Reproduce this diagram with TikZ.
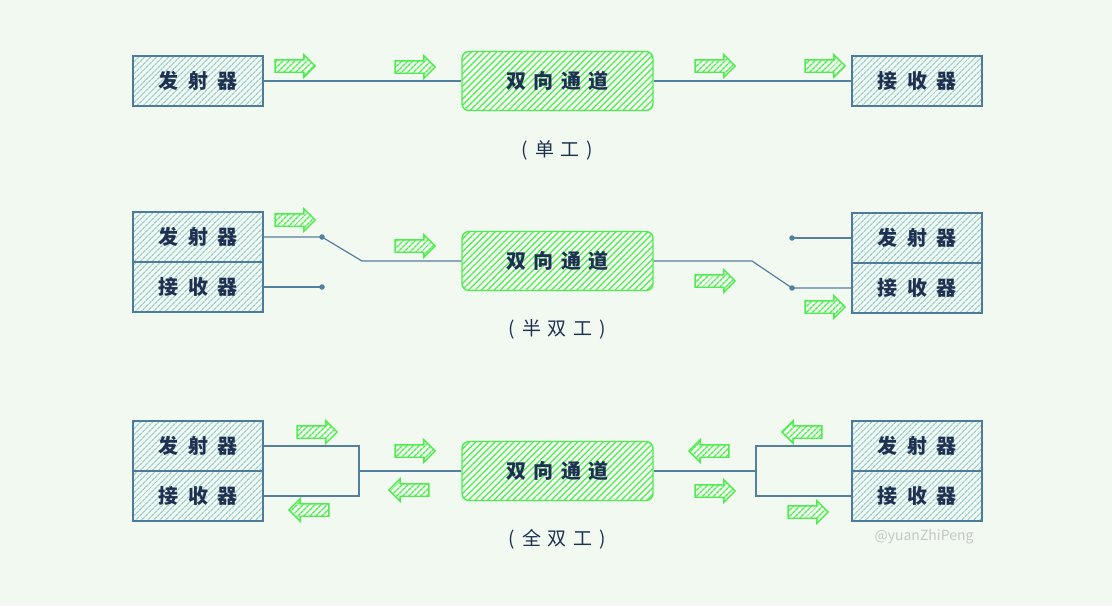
\documentclass[tikz,border=0pt]{standalone}
\usepackage{fontspec}
\setmainfont{Noto Sans CJK SC}[WordSpace=2]
\newfontfamily\modefont{Noto Sans CJK SC}[WordSpace=1.4]
\newfontfamily\chanfont{Noto Sans CJK SC}[WordSpace=1.6]
\usepackage{tikz}
\usetikzlibrary{positioning,shapes.arrows,patterns.meta}

\definecolor{paper}{HTML}{F1F9F0}
\definecolor{boxline}{HTML}{4C7B9B}
\definecolor{boxhatch}{HTML}{9ACDD2}
\definecolor{chgreen}{HTML}{4FEC4F}
\definecolor{wireblue}{HTML}{557F9E}
\definecolor{ink}{HTML}{1E3152}
\definecolor{signgray}{HTML}{C4C8C4}

\tikzset{
	unit/.style={rectangle, draw=boxline, line width=1.1pt, minimum width=130pt, minimum height=50pt, pattern={Lines[angle=45,distance=4pt,line width=1.3pt]}, pattern color=boxhatch, text=ink, font=\fontsize{20}{23}\selectfont\bfseries},
	channel/.style={rectangle, rounded corners=7pt, draw=chgreen, line width=1.4pt, minimum width=191pt, minimum height=59pt, pattern={Lines[angle=45,distance=4.5pt,line width=1.2pt]}, pattern color=chgreen, text=ink, font=\chanfont\fontsize{20}{23}\selectfont\bfseries},
	flow/.style={single arrow, draw=chgreen, line width=1.4pt, minimum height=40pt, minimum width=20pt, inner sep=5.5pt, single arrow head extend=5pt, pattern={Lines[angle=45,distance=4pt,line width=1.4pt]}, pattern color=chgreen},
	back/.style={flow, shape border rotate=180},
	wire/.style={draw=wireblue, line width=1.2pt},
	pin/.style={circle, fill=wireblue, inner sep=0pt, minimum size=5.5pt},
	mode/.style={text=ink, font=\modefont\fontsize{19}{22}\selectfont}
}

\begin{document}
\begin{tikzpicture}[x=1pt, y=-1pt]
	\fill[paper] (0,0) rectangle (1112,606);
	\useasboundingbox (0,0) rectangle (1112,606);

	% simplex
	\node[unit] (tx1) at (198,81) {发 射 器};
	\node[channel, right of=tx1, node distance=359.5pt] (ch1) {双 向 通 道};
	\node[unit, right of=ch1, node distance=359.5pt] (rx1) {接 收 器};
	\node[mode, below of=ch1, node distance=69pt] (m1) {( 单 工 )};

	\node[flow] (f11) at (292,66) {};
	\node[flow] (f12) at (412,67) {};
	\node[flow] (f13) at (712,66) {};
	\node[flow] (f14) at (822,66) {};

	\path [wire] (tx1) -- (ch1);
	\path [wire] (ch1) -- (rx1);

	% half duplex
	\node[unit] (tx2) at (198,237) {发 射 器};
	\node[unit, below of=tx2, node distance=50pt] (rx2) {接 收 器};
	\node[channel] (ch2) at (557.5,261) {双 向 通 道};
	\node[unit] (tx2r) at (917,238) {发 射 器};
	\node[unit, below of=tx2r, node distance=50pt] (rx2r) {接 收 器};
	\node[mode, below of=ch2, node distance=68pt] (m2) {( 半 双 工 )};

	\node[pin] (p1) at (322,237) {};
	\node[pin] (p2) at (322,287) {};
	\node[pin] (p3) at (792,238) {};
	\node[pin] (p4) at (792,288) {};
	\coordinate (k1) at (362,261);
	\coordinate (k2) at (752,261);

	\node[flow] (f21) at (292,220) {};
	\node[flow] (f22) at (412,246) {};
	\node[flow] (f23) at (712,281) {};
	\node[flow] (f24) at (822,307) {};

	\path [wire] (tx2.east) -- (p1.center) -- (k1) -- (ch2.west);
	\path [wire] (rx2.east) -- (p2.center);
	\path [wire] (ch2.east) -- (k2) -- (p4.center) -- (rx2r.west);
	\path [wire] (p3.center) -- (tx2r.west);

	% full duplex
	\node[unit] (tx3) at (198,446) {发 射 器};
	\node[unit, below of=tx3, node distance=50pt] (rx3) {接 收 器};
	\node[channel] (ch3) at (557.5,471) {双 向 通 道};
	\node[unit] (tx3r) at (917,446) {发 射 器};
	\node[unit, below of=tx3r, node distance=50pt] (rx3r) {接 收 器};
	\node[mode, below of=ch3, node distance=68pt] (m3) {( 全 双 工 )};

	\coordinate (b1) at (359,471);
	\coordinate (b2) at (756,471);

	\node[flow] (f31) at (314,432) {};
	\node[flow] (f32) at (412,451) {};
	\node[back] (f33) at (412,490) {};
	\node[back] (f34) at (312,510) {};
	\node[back] (f35) at (712,451) {};
	\node[back] (f36) at (805,432) {};
	\node[flow] (f37) at (712,491) {};
	\node[flow] (f38) at (805,512) {};

	\path [wire] (tx3.east) -| (b1) |- (rx3.east);
	\path [wire] (b1) -- (ch3.west);
	\path [wire] (tx3r.west) -| (b2) |- (rx3r.west);
	\path [wire] (b2) -- (ch3.east);

	\node[text=signgray, font=\fontsize{14}{16}\selectfont] (sign) at (924,537) {@yuanZhiPeng};
\end{tikzpicture}
\end{document}
